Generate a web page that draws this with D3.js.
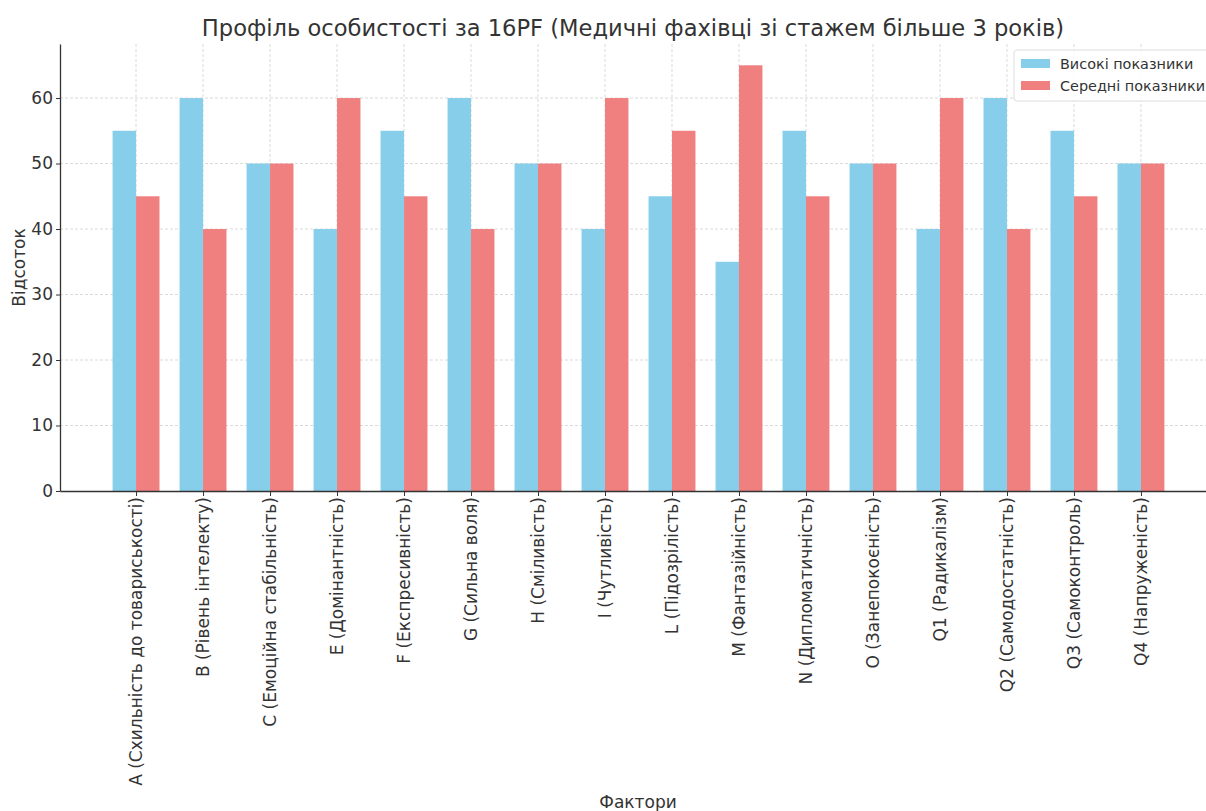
<!DOCTYPE html>
<html>
<head>
<meta charset="utf-8">
<script src="https://cdn.jsdelivr.net/npm/d3@7"></script>
<style>
  body { margin: 0; background: #fff; }
  svg text { font-family: "DejaVu Sans", sans-serif; fill: #333; }
</style>
</head>
<body>
<div id="chart"></div>
<script>
const factors = [
  "A (Схильність до товариськості)", "B (Рівень інтелекту)", "C (Емоційна стабільність)",
  "E (Домінантність)", "F (Експресивність)", "G (Сильна воля)", "H (Сміливість)",
  "I (Чутливість)", "L (Підозрілість)", "M (Фантазійність)", "N (Дипломатичність)",
  "O (Занепокоєність)", "Q1 (Радикалізм)", "Q2 (Самодостатність)", "Q3 (Самоконтроль)",
  "Q4 (Напруженість)"
];
const highValues = [55, 60, 50, 40, 55, 60, 50, 40, 45, 35, 55, 50, 40, 60, 55, 50];
const midValues  = [45, 40, 50, 60, 45, 40, 50, 60, 55, 65, 45, 50, 60, 40, 45, 50];
const seriesNames = ["Високі показники", "Середні показники"];
const seriesColors = ["#87CEEB", "#F08080"];
const yTicks = [0, 10, 20, 30, 40, 50, 60];

const width = 1206, height = 811;
const margin = { top: 44, right: -11, bottom: 320, left: 60 };
const barW = 0.35;

const svg = d3.select('#chart')
  .append('svg')
  .attr('width', width)
  .attr('height', height);

const maxV = d3.max(highValues.concat(midValues));
const n = factors.length;
const xPad = (n - 1 + 2 * barW) * 0.05;

const x = d3.scaleLinear()
  .domain([-barW - xPad, n - 1 + barW + xPad])
  .range([margin.left, width - margin.right]);

const y = d3.scaleLinear()
  .domain([0, maxV * 1.05])
  .range([height - margin.bottom, margin.top]);

const x0 = margin.left, x1 = width - margin.right;
const yBase = y(0);

// grid
const grid = svg.append('g').attr('class', 'grid');
grid.selectAll('line.h')
  .data(yTicks.slice(1))
  .enter()
  .append('line')
  .attr('x1', x0).attr('x2', x1)
  .attr('y1', d => y(d)).attr('y2', d => y(d))
  .attr('stroke', '#d0d0d0').attr('stroke-width', 0.8)
  .attr('stroke-dasharray', '3,2');
grid.selectAll('line.v')
  .data(d3.range(n))
  .enter()
  .append('line')
  .attr('x1', d => x(d)).attr('x2', d => x(d))
  .attr('y1', y.range()[1]).attr('y2', yBase)
  .attr('stroke', '#d0d0d0').attr('stroke-width', 0.8)
  .attr('stroke-dasharray', '3,2');

// bars
const series = [highValues, midValues];
series.forEach((vals, s) => {
  svg.append('g')
    .selectAll('rect')
    .data(vals)
    .enter()
    .append('rect')
    .attr('x', (d, i) => x(i - barW + s * barW))
    .attr('y', d => y(d))
    .attr('width', x(barW) - x(0))
    .attr('height', d => yBase - y(d))
    .attr('fill', seriesColors[s]);
});

// axes
const xAxis = d3.axisBottom(x)
  .tickValues(d3.range(n))
  .tickFormat(i => factors[i])
  .tickSize(5)
  .tickSizeOuter(0);

const gx = svg.append('g')
  .attr('transform', `translate(0,${yBase})`)
  .call(xAxis);
gx.select('.domain').attr('stroke', '#333').attr('stroke-width', 1.3);
gx.selectAll('.tick line').attr('stroke', '#333');
gx.selectAll('.tick text')
  .attr('font-size', 17)
  .attr('fill', '#333')
  .attr('transform', 'rotate(-90)')
  .attr('text-anchor', 'end')
  .attr('x', -6)
  .attr('y', 0)
  .attr('dy', '0.35em');

const yAxis = d3.axisLeft(y)
  .tickValues(yTicks)
  .tickSize(4)
  .tickSizeOuter(0);

const gy = svg.append('g')
  .attr('transform', `translate(${x0},0)`)
  .call(yAxis);
gy.select('.domain').attr('stroke', '#333').attr('stroke-width', 1.3);
gy.selectAll('.tick line').attr('stroke', '#333');
gy.selectAll('.tick text')
  .attr('font-size', 17)
  .attr('fill', '#333')
  .attr('x', -7);

// titles
svg.append('text')
  .attr('x', 633).attr('y', 36)
  .attr('text-anchor', 'middle')
  .attr('font-size', 22.6)
  .text('Профіль особистості за 16PF (Медичні фахівці зі стажем більше 3 років)');

svg.append('text')
  .attr('transform', `translate(25,${(y.range()[0] + y.range()[1]) / 2}) rotate(-90)`)
  .attr('text-anchor', 'middle')
  .attr('font-size', 17)
  .text('Відсоток');

svg.append('text')
  .attr('x', 638).attr('y', 808)
  .attr('text-anchor', 'middle')
  .attr('font-size', 17)
  .text('Фактори');

// legend
const legend = svg.append('g').attr('transform', 'translate(1014,50)');
legend.append('rect')
  .attr('width', 220).attr('height', 51)
  .attr('rx', 3)
  .attr('fill', '#fff').attr('fill-opacity', 0.85)
  .attr('stroke', '#ddd');
seriesNames.forEach((name, i) => {
  legend.append('rect')
    .attr('x', 7).attr('y', 9 + i * 22)
    .attr('width', 29).attr('height', 9)
    .attr('fill', seriesColors[i]);
  legend.append('text')
    .attr('x', 46).attr('y', 13.5 + i * 22)
    .attr('dy', '0.35em')
    .attr('font-size', 14.4)
    .text(name);
});
</script>
</body>
</html>
